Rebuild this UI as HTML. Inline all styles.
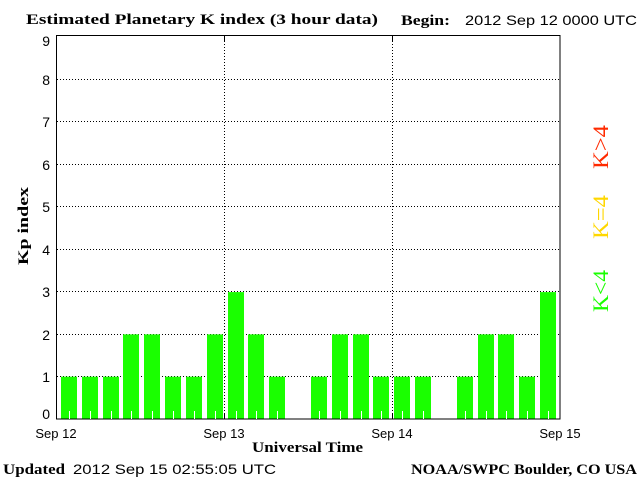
<!DOCTYPE html><html><head><style>body{margin:0;background:#fff}svg{display:block}</style></head><body>
<svg width="640" height="480" xmlns="http://www.w3.org/2000/svg" font-family="Liberation Sans, sans-serif">
<rect width="640" height="480" fill="#fff"/>
<g stroke="#000" stroke-dasharray="1,2" stroke-width="1">
<line x1="57" y1="376.5" x2="560" y2="376.5"/><line x1="57" y1="334.5" x2="560" y2="334.5"/>
<line x1="57" y1="291.5" x2="560" y2="291.5"/><line x1="57" y1="249.5" x2="560" y2="249.5"/>
<line x1="57" y1="206.5" x2="560" y2="206.5"/><line x1="57" y1="164.5" x2="560" y2="164.5"/>
<line x1="57" y1="121.5" x2="560" y2="121.5"/><line x1="57" y1="79.5" x2="560" y2="79.5"/>
<line x1="224.5" y1="35" x2="224.5" y2="419"/><line x1="392.5" y1="35" x2="392.5" y2="419"/>
</g>
<g id="bars" fill="#1aff00"></g>
<rect x="56.5" y="35.5" width="503.5" height="383.5" fill="none" stroke="#000" stroke-width="1"/>
<g stroke="#000"><line x1="224.5" y1="35" x2="224.5" y2="41"/><line x1="392.5" y1="35" x2="392.5" y2="41"/>
<line x1="224.5" y1="413" x2="224.5" y2="419"/><line x1="392.5" y1="413" x2="392.5" y2="419"/></g>
<g font-size="14" text-anchor="end" fill="#000">
<text x="50" y="419">0</text><text x="50" y="382">1</text><text x="50" y="340">2</text><text x="50" y="297">3</text><text x="50" y="255">4</text><text x="50" y="212">5</text><text x="50" y="170">6</text><text x="50" y="127">7</text><text x="50" y="85">8</text><text x="50" y="46">9</text>
</g>
<g font-size="13" text-anchor="middle" fill="#000">
<text x="56" y="438">Sep 12</text><text x="224" y="438">Sep 13</text><text x="392" y="438">Sep 14</text><text x="560" y="438">Sep 15</text>
</g>
<g font-family="Liberation Serif, serif" font-weight="bold" font-size="15" fill="#000">
<text x="26" y="24" textLength="352" lengthAdjust="spacingAndGlyphs">Estimated Planetary K index (3 hour data)</text>
<text x="252" y="452" textLength="111" lengthAdjust="spacingAndGlyphs">Universal Time</text>
<text x="401" y="25" textLength="49" lengthAdjust="spacingAndGlyphs">Begin:</text>
<text x="3" y="474" textLength="62" lengthAdjust="spacingAndGlyphs">Updated</text>
<text x="411" y="474" textLength="226" lengthAdjust="spacingAndGlyphs">NOAA/SWPC Boulder, CO USA</text>
<text transform="translate(28,226) rotate(-90)" text-anchor="middle" textLength="78" lengthAdjust="spacingAndGlyphs">Kp index</text>
</g>
<g font-size="14" fill="#000">
<text x="465" y="25" textLength="172" lengthAdjust="spacingAndGlyphs">2012 Sep 12 0000 UTC</text>
<text x="73" y="474" textLength="203" lengthAdjust="spacingAndGlyphs">2012 Sep 15 02:55:05 UTC</text>
</g>
<g font-family="Liberation Serif, serif" font-size="22" text-anchor="middle">
<text transform="translate(608,291) rotate(-90)" fill="#1aff00" textLength="42" lengthAdjust="spacingAndGlyphs">K&lt;4</text>
<text transform="translate(608,217) rotate(-90)" fill="#ffd700" textLength="44" lengthAdjust="spacingAndGlyphs">K=4</text>
<text transform="translate(608,147) rotate(-90)" fill="#ff2a00" textLength="44" lengthAdjust="spacingAndGlyphs">K&gt;4</text>
</g>
<g id="ticks" stroke="#fff"></g>
<script>
var v=[1,1,1,2,2,1,1,2,3,2,1,0,1,2,2,1,1,1,0,1,2,2,1,3],b=document.getElementById('bars'),t=document.getElementById('ticks'),n='http://www.w3.org/2000/svg';
v.forEach(function(k,i){if(!k)return;var x=Math.round(61+i*20.83),h=k*42.3;var r=document.createElementNS(n,'rect');r.setAttribute('x',x);r.setAttribute('y',419-h);r.setAttribute('width',16);r.setAttribute('height',h);b.appendChild(r);
var l=document.createElementNS(n,'line');l.setAttribute('x1',x+8.5);l.setAttribute('x2',x+8.5);l.setAttribute('y1',411);l.setAttribute('y2',419);t.appendChild(l);});
</script>
</svg>
</body></html>
